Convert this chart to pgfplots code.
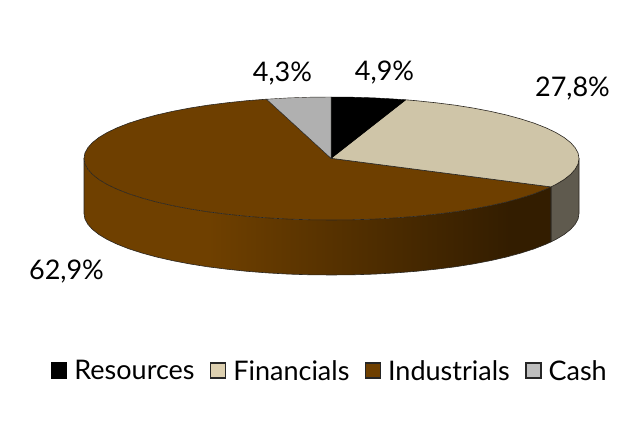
\documentclass[border=0pt]{standalone}
\usepackage{pgfplots}
\pgfplotsset{compat=1.18}
\usepackage{fontspec}
\setmainfont{Lato}
\definecolor{rimc}{HTML}{2A2620}
\definecolor{topbeige}{HTML}{CFC5A8}
\definecolor{keybeige}{HTML}{DDD0B0}
\definecolor{topbrown}{HTML}{6E3F00}
\definecolor{sidebrown}{HTML}{6F4000}
\definecolor{sidedark}{HTML}{331D00}
\definecolor{sidebeige}{HTML}{5F5A4E}
\definecolor{topgrey}{HTML}{B0B0B0}
\definecolor{keygrey}{HTML}{BEBEBE}
\begin{document}
\begin{tikzpicture}
\useasboundingbox (0,0) rectangle (623pt,430pt);
\begin{axis}[
  at={(0,0)}, anchor=south west,
  scale only axis, width=623pt, height=430pt,
  xmin=0, xmax=623, ymin=0, ymax=430, y dir=reverse,
  hide axis, clip=false,
  legend columns=4,
  legend cell align=left,
  legend style={at={(axis cs:51,371)}, anchor=west, draw=none, fill=none,
    font=\fontsize{27}{31}\selectfont,
    inner xsep=0pt, inner ysep=0pt,
    /tikz/every even column/.style={column sep=13.5pt}},
  legend image code/.code={\draw[#1] (0pt,-7pt) rectangle (15pt,8pt); \path (20pt,0pt);},
]

% side wall, brown part
\addplot[draw=none, forget plot, fill=sidebrown] coordinates {
  (84,158.5) (84.9,163.9) (87.8,169.2) (92.4,174.4) (98.9,179.5) (107.2,184.5) (117.2,189.25) (128.8,193.8) (141.9,198) (156.5,202) (172.4,205.6) (189.5,208.9) (208.2,211.8)
  (208.2,266.8) (189.5,263.9) (172.4,260.6) (156.5,257) (141.9,253) (128.8,248.8) (117.2,244.25) (107.2,239.5) (98.9,234.5) (92.4,229.4) (87.8,224.2) (84.9,218.9) (84,213.5)
} -- cycle;
\addplot[draw=none, forget plot, left color=sidebrown, right color=sidedark] coordinates {
  (207.75,211.8) (226.9,214.2) (246.9,216.3) (267.4,217.9) (288.5,219.1) (309.9,219.8) (331.5,220) (353.1,219.8) (374.5,219.1) (395.6,217.9) (416.1,216.3) (436.1,214.2) (455.25,211.8) (473.5,208.9) (490.6,205.6) (506.5,202) (510,201)
  (510,256) (506.5,257) (490.6,260.6) (473.5,263.9) (455.25,266.8) (436.1,269.2) (416.1,271.3) (395.6,272.9) (374.5,274.1) (353.1,274.8) (331.5,275) (309.9,274.8) (288.5,274.1) (267.4,272.9) (246.9,271.3) (226.9,269.2) (207.75,266.8)
} -- cycle;
\addplot[draw=none, forget plot, fill=sidedark] coordinates {
  (509.6,201) (521.1,198) (534.2,193.8) (545.8,189.25) (551,186.9)
  (551,241.9) (545.8,244.25) (534.2,248.8) (521.1,253) (509.6,256)
} -- cycle;
% side wall, beige part
\addplot[draw=rimc, line width=0.6pt, forget plot, fill=sidebeige] coordinates {
  (551,186.9) (555.8,184.5) (564.1,179.5) (570.6,174.4) (575.2,169.2) (578.1,163.9) (579,158.5)
  (579,213.5) (578.1,218.9) (575.2,224.2) (570.6,229.4) (564.1,234.5) (555.8,239.5) (551,241.9)
} -- cycle;
% outline of the wall
\addplot[draw=rimc, line width=0.6pt, forget plot] coordinates {
  (84,158.5) (84,213.5) (84.9,218.9) (87.8,224.2) (92.4,229.4) (98.9,234.5) (107.2,239.5) (117.2,244.25) (128.8,248.8) (141.9,253) (156.5,257) (172.4,260.6) (189.5,263.9) (207.75,266.8) (226.9,269.2) (246.9,271.3) (267.4,272.9) (288.5,274.1) (309.9,274.8)
  (331.5,275) (353.1,274.8) (374.5,274.1) (395.6,272.9) (416.1,271.3) (436.1,269.2) (455.25,266.8) (473.5,263.9) (490.6,260.6) (506.5,257) (521.1,253) (534.2,248.8) (545.8,244.25) (551,241.9) (551,186.9)
};

% top: Industrials
\addplot[draw=rimc, line width=0.6pt, forget plot, fill=topbrown] coordinates {
  (331,158.3) (266.5,99.2) (246.9,100.7) (226.9,102.8) (207.75,105.2) (189.5,108.1) (172.4,111.4) (156.5,115) (141.9,119) (128.8,123.2) (117.2,127.75) (107.2,132.5) (98.9,137.5) (92.4,142.6) (87.8,147.8) (84.9,153.1) (84,158.5)
  (84.9,163.9) (87.8,169.2) (92.4,174.4) (98.9,179.5) (107.2,184.5) (117.2,189.25) (128.8,193.8) (141.9,198) (156.5,202) (172.4,205.6) (189.5,208.9) (207.75,211.8) (226.9,214.2) (246.9,216.3) (267.4,217.9) (288.5,219.1) (309.9,219.8) (331.5,220)
  (353.1,219.8) (374.5,219.1) (395.6,217.9) (416.1,216.3) (436.1,214.2) (455.25,211.8) (473.5,208.9) (490.6,205.6) (506.5,202) (521.1,198) (534.2,193.8) (545.8,189.25) (551,186.9)
} -- cycle;
% top: Financials
\addplot[draw=rimc, line width=0.6pt, forget plot, fill=topbeige] coordinates {
  (331,158.3) (551,186.9) (555.8,184.5) (564.1,179.5) (570.6,174.4) (575.2,169.2) (578.1,163.9) (579,158.5) (578.1,153.1) (575.2,147.8) (570.6,142.6) (564.1,137.5) (555.8,132.5) (545.8,127.75) (534.2,123.2) (521.1,119) (506.5,115) (490.6,111.4) (473.5,108.1) (455.25,105.2) (436.1,102.8) (416.1,100.7) (405.7,99.8)
} -- cycle;
% top: Resources
\addplot[draw=black, line width=0.4pt, forget plot, fill=black] coordinates {
  (331,158.3) (405.7,99.8) (395.6,99.1) (374.5,97.9) (353.1,97.2) (331,97)
} -- cycle;
% top: Cash
\addplot[draw=rimc, line width=0.4pt, forget plot, fill=topgrey] coordinates {
  (331,158.3) (331,97) (309.9,97.2) (288.5,97.9) (266.5,99.2)
} -- cycle;

\addlegendimage{draw=black, fill=black, line width=1.2pt}
\addlegendentry{Resources}
\addlegendimage{draw=black!85, fill=keybeige, line width=1.2pt}
\addlegendentry{Financials}
\addlegendimage{draw=black!85, fill=topbrown, line width=1.2pt}
\addlegendentry{Industrials}
\addlegendimage{draw=black!85, fill=keygrey, line width=1.2pt}
\addlegendentry{Cash}

\node[font=\fontsize{27}{31}\selectfont] at (axis cs:384.5,73) {4,9\%};
\node[font=\fontsize{27}{31}\selectfont] at (axis cs:282.5,74) {4,3\%};
\node[font=\fontsize{27}{31}\selectfont] at (axis cs:572.5,89) {27,8\%};
\node[font=\fontsize{27}{31}\selectfont] at (axis cs:66.5,272) {62,9\%};
\end{axis}
\end{tikzpicture}
\end{document}
